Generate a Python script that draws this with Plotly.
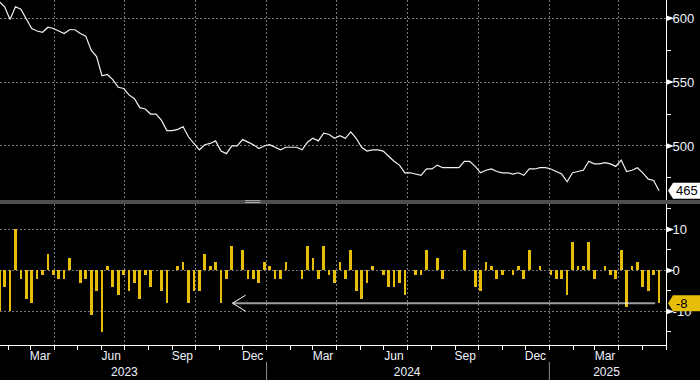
import pandas as pd
import plotly.graph_objects as go

# ---- data ----
start_date = "2023-01-20"
weekly_change = [-10, -4, -10, 10, -2, -7, -8, -2, -1, 4, -1, -2, -2, 3, 0, -3, -2, -11, -5, -15, 1, -4, -6, -1, -5, -3, -7, -1, -4, 0, -5, -8,
                 0, 1, 2, -8, -5, -5, 4, 1, 2, -8, -2, 6, 0, 5, -2, -2, -3, 2, 1, -2, -2, 2, 0, 0, -2, 6, 3, -2, 6, -1, -3,
                 2, -2, 5, -5, -7, -3, 1, 0, -1, -4, -4, -3, -6, 0, -1, -1, 5, 0, 3, -2, 0, 0, 0, 5, 0, -4, -5, 2, 1, -2,
                 -1, 0, -1, 1, -2, 5, 0, 1, 0, -1, -2, -2, -6, 7, 1, 1, 7, -2, 0, 1, -1, -2, 5, -9, 1, 2, -4, -5, -1, -8]
level = [613, 609, 599, 609, 607, 600, 592, 590, 589, 593, 592, 590, 588, 591, 591, 588, 586, 575, 570, 555, 556, 552, 546, 545,
         540, 537, 530, 529, 525, 525, 520, 512, 512, 513, 515, 507, 502, 497, 501, 502, 504, 496, 494, 500, 500, 505, 503, 501,
         498, 500, 501, 499, 497, 499, 499, 499, 497, 503, 506, 504, 510, 509, 506, 508, 506, 511, 506, 499, 496, 497, 497, 496,
         492, 488, 485, 479, 479, 478, 477, 482, 482, 485, 483, 483, 483, 483, 488, 488, 484, 479, 481, 482, 480, 479, 479, 478,
         479, 477, 482, 482, 483, 483, 482, 480, 478, 472, 479, 480, 481, 488, 486, 486, 487, 486, 484, 489, 480, 481, 483, 479,
         474, 473, 465]
dates = pd.date_range(start_date, periods=len(level), freq="7D")

top_ticks = [500, 550, 600]
top_minor = [475, 525, 575]
bot_ticks = [-10, 0, 10]
bot_minor = [-15, -5, 5, 15]
month_label_dates = ["2023-03-14", "2023-06-14", "2023-09-14", "2023-12-14",
                     "2024-03-14", "2024-06-14", "2024-09-14", "2024-12-14", "2025-03-14"]
month_label_text = ["Mar", "Jun", "Sep", "Dec", "Mar", "Jun", "Sep", "Dec", "Mar"]
year_label_dates = ["2023-07-01", "2024-07-01", "2025-03-16"]
year_label_text = ["2023", "2024", "2025"]
year_breaks = ["2024-01-01", "2025-01-01"]
arrow_tip = "2023-11-18"
arrow_end = "2025-05-18"

# ---- styles ----
X_RANGE = ["2023-01-21", "2025-06-01"]
BAR_C = "#e6be0a"
GRID_C = "#787878"
TXT_C = "#eef3fb"
FONT = "Liberation Sans, Arial, sans-serif"
TOP_DOM = [0.4203, 1.0]
BOT_DOM = [0.0, 0.4087]

fig = go.Figure()
fig.add_trace(go.Scatter(x=dates, y=level, mode="lines",
                         line=dict(color="#f2f2f2", width=1.2),
                         xaxis="x", yaxis="y", showlegend=False, hoverinfo="skip"))
fig.add_trace(go.Bar(x=dates, y=weekly_change, marker=dict(color=BAR_C, line=dict(width=0)),
                     width=3.5 * 86400000, xaxis="x2", yaxis="y2", showlegend=False))
# empty traces so the label-only axes get drawn
fig.add_trace(go.Scatter(x=[], y=[], xaxis="x3", yaxis="y2", showlegend=False))
fig.add_trace(go.Scatter(x=[], y=[], xaxis="x4", yaxis="y2", showlegend=False))

grid = dict(showgrid=True, gridcolor=GRID_C, griddash="2px,2px", gridwidth=1)

fig.update_layout(
    width=700, height=380,
    margin=dict(l=0, r=34, t=0, b=35, autoexpand=False),
    paper_bgcolor="black", plot_bgcolor="black",
    font=dict(family=FONT, color=TXT_C, size=13),
    bargap=0,
    xaxis=dict(domain=[0, 1], anchor="y", range=X_RANGE, type="date", automargin=False,
               tickmode="linear", tick0="2023-01-01", dtick="M3",
               showticklabels=False, ticks="", zeroline=False, showline=False, **grid),
    yaxis=dict(domain=TOP_DOM, anchor="x", side="right", range=[457.7, 614.3], automargin=False,
               tickmode="array", tickvals=top_ticks, ticktext=[str(v) for v in top_ticks],
               ticks="outside", ticklen=3, tickcolor="rgba(0,0,0,0)",
               showline=True, linecolor="white", linewidth=1, zeroline=False,
               tickfont=dict(size=13, color=TXT_C),
               minor=dict(tickmode="array", tickvals=top_minor, ticks="outside", ticklen=4,
                          tickcolor="white", showgrid=False),
               **grid),
    xaxis2=dict(domain=[0, 1], anchor="y2", range=X_RANGE, type="date", automargin=False,
                tickmode="linear", tick0="2023-01-01", dtick="M3",
                ticks="outside", ticklen=4, tickcolor="white",
                showticklabels=False, showline=True, linecolor="white", linewidth=1,
                zeroline=False,
                minor=dict(tickmode="linear", tick0="2023-01-01", dtick="M1",
                           ticks="outside", ticklen=4, tickcolor="white", showgrid=False),
                **grid),
    xaxis3=dict(overlaying="x2", anchor="y2", side="bottom", range=X_RANGE, type="date", automargin=False,
                tickmode="array", tickvals=month_label_dates, ticktext=month_label_text,
                ticks="", showgrid=False, showline=False, zeroline=False,
                tickfont=dict(size=12, color=TXT_C), ticklabelstandoff=2),
    xaxis4=dict(overlaying="x2", anchor="y2", side="bottom", range=X_RANGE, type="date", automargin=False,
                tickmode="array", tickvals=year_label_dates, ticktext=year_label_text,
                ticks="", showgrid=False, showline=False, zeroline=False,
                tickfont=dict(size=12, color=TXT_C), ticklabelstandoff=18),
    yaxis2=dict(domain=BOT_DOM, anchor="x2", side="right", range=[-18.2, 16.2], automargin=False,
                tickmode="array", tickvals=bot_ticks, ticktext=[str(v) for v in bot_ticks],
                ticks="outside", ticklen=3, tickcolor="rgba(0,0,0,0)",
                showline=True, linecolor="white", linewidth=1, zeroline=False,
                tickfont=dict(size=13, color=TXT_C),
                minor=dict(tickmode="array", tickvals=bot_minor, ticks="outside", ticklen=4,
                           tickcolor="white", showgrid=False),
                **grid),
)

shapes = []
# tick pointer triangles
for v in top_ticks:
    shapes.append(dict(type="path", xref="paper", yref="y", xsizemode="pixel", ysizemode="pixel",
                       xanchor=1, yanchor=v, path="M0,3 L8,0 L0,-3 Z",
                       fillcolor="white", line=dict(width=0), layer="above"))
for v in bot_ticks:
    shapes.append(dict(type="path", xref="paper", yref="y2", xsizemode="pixel", ysizemode="pixel",
                       xanchor=1, yanchor=v, path="M0,3 L8,0 L0,-3 Z",
                       fillcolor="white", line=dict(width=0), layer="above"))
# panel separator bar and grip
shapes.append(dict(type="rect", xref="paper", yref="paper", x0=0, x1=1.06,
                   y0=BOT_DOM[1], y1=TOP_DOM[0], fillcolor="#4e4e4e", line=dict(width=0), layer="above"))
for yy in (0.4186, 0.4130):
    shapes.append(dict(type="line", xref="paper", yref="paper", x0=0.368, x1=0.391, y0=yy, y1=yy,
                       line=dict(color="#a8a8a8", width=1), layer="above"))
# year break lines under the axis
for d in year_breaks:
    shapes.append(dict(type="line", xref="x2", yref="paper", x0=d, x1=d, y0=-0.049, y1=-0.102,
                       line=dict(color="#8c8c8c", width=1)))
# arrow at latest change level
last_chg = weekly_change[-1]
shapes.append(dict(type="line", xref="x2", yref="y2", x0=arrow_tip, x1=arrow_end, y0=last_chg, y1=last_chg,
                   line=dict(color="rgba(255,255,255,0.62)", width=2), layer="above"))
shapes.append(dict(type="path", xref="x2", yref="y2", xsizemode="pixel", ysizemode="pixel",
                   xanchor=arrow_tip, yanchor=last_chg, path="M13,8 L0,0 L13,-8",
                   line=dict(color="white", width=1), layer="above"))
# last value label boxes
shapes.append(dict(type="path", xref="paper", yref="y", xsizemode="pixel", ysizemode="pixel",
                   xanchor=1, yanchor=level[-1], path="M2,0 L7,8 L40,8 L40,-8 L7,-8 Z",
                   fillcolor="white", line=dict(width=0), layer="above"))
shapes.append(dict(type="path", xref="paper", yref="y2", xsizemode="pixel", ysizemode="pixel",
                   xanchor=1, yanchor=last_chg, path="M2,0 L7,8 L40,8 L40,-8 L7,-8 Z",
                   fillcolor=BAR_C, line=dict(width=0), layer="above"))
fig.update_layout(shapes=shapes)

fig.add_annotation(xref="paper", yref="y", x=1.0125, y=level[-1], xanchor="left", yanchor="middle",
                   text=str(level[-1]), showarrow=False, font=dict(color="black", size=13, family=FONT))
fig.add_annotation(xref="paper", yref="y2", x=1.0125, y=last_chg, xanchor="left", yanchor="middle",
                   text=str(last_chg), showarrow=False, font=dict(color="black", size=13, family=FONT))

fig.write_html("out.html", config={"displayModeBar": False},
               post_script="document.body.style.margin='0';document.body.style.background='black';")
